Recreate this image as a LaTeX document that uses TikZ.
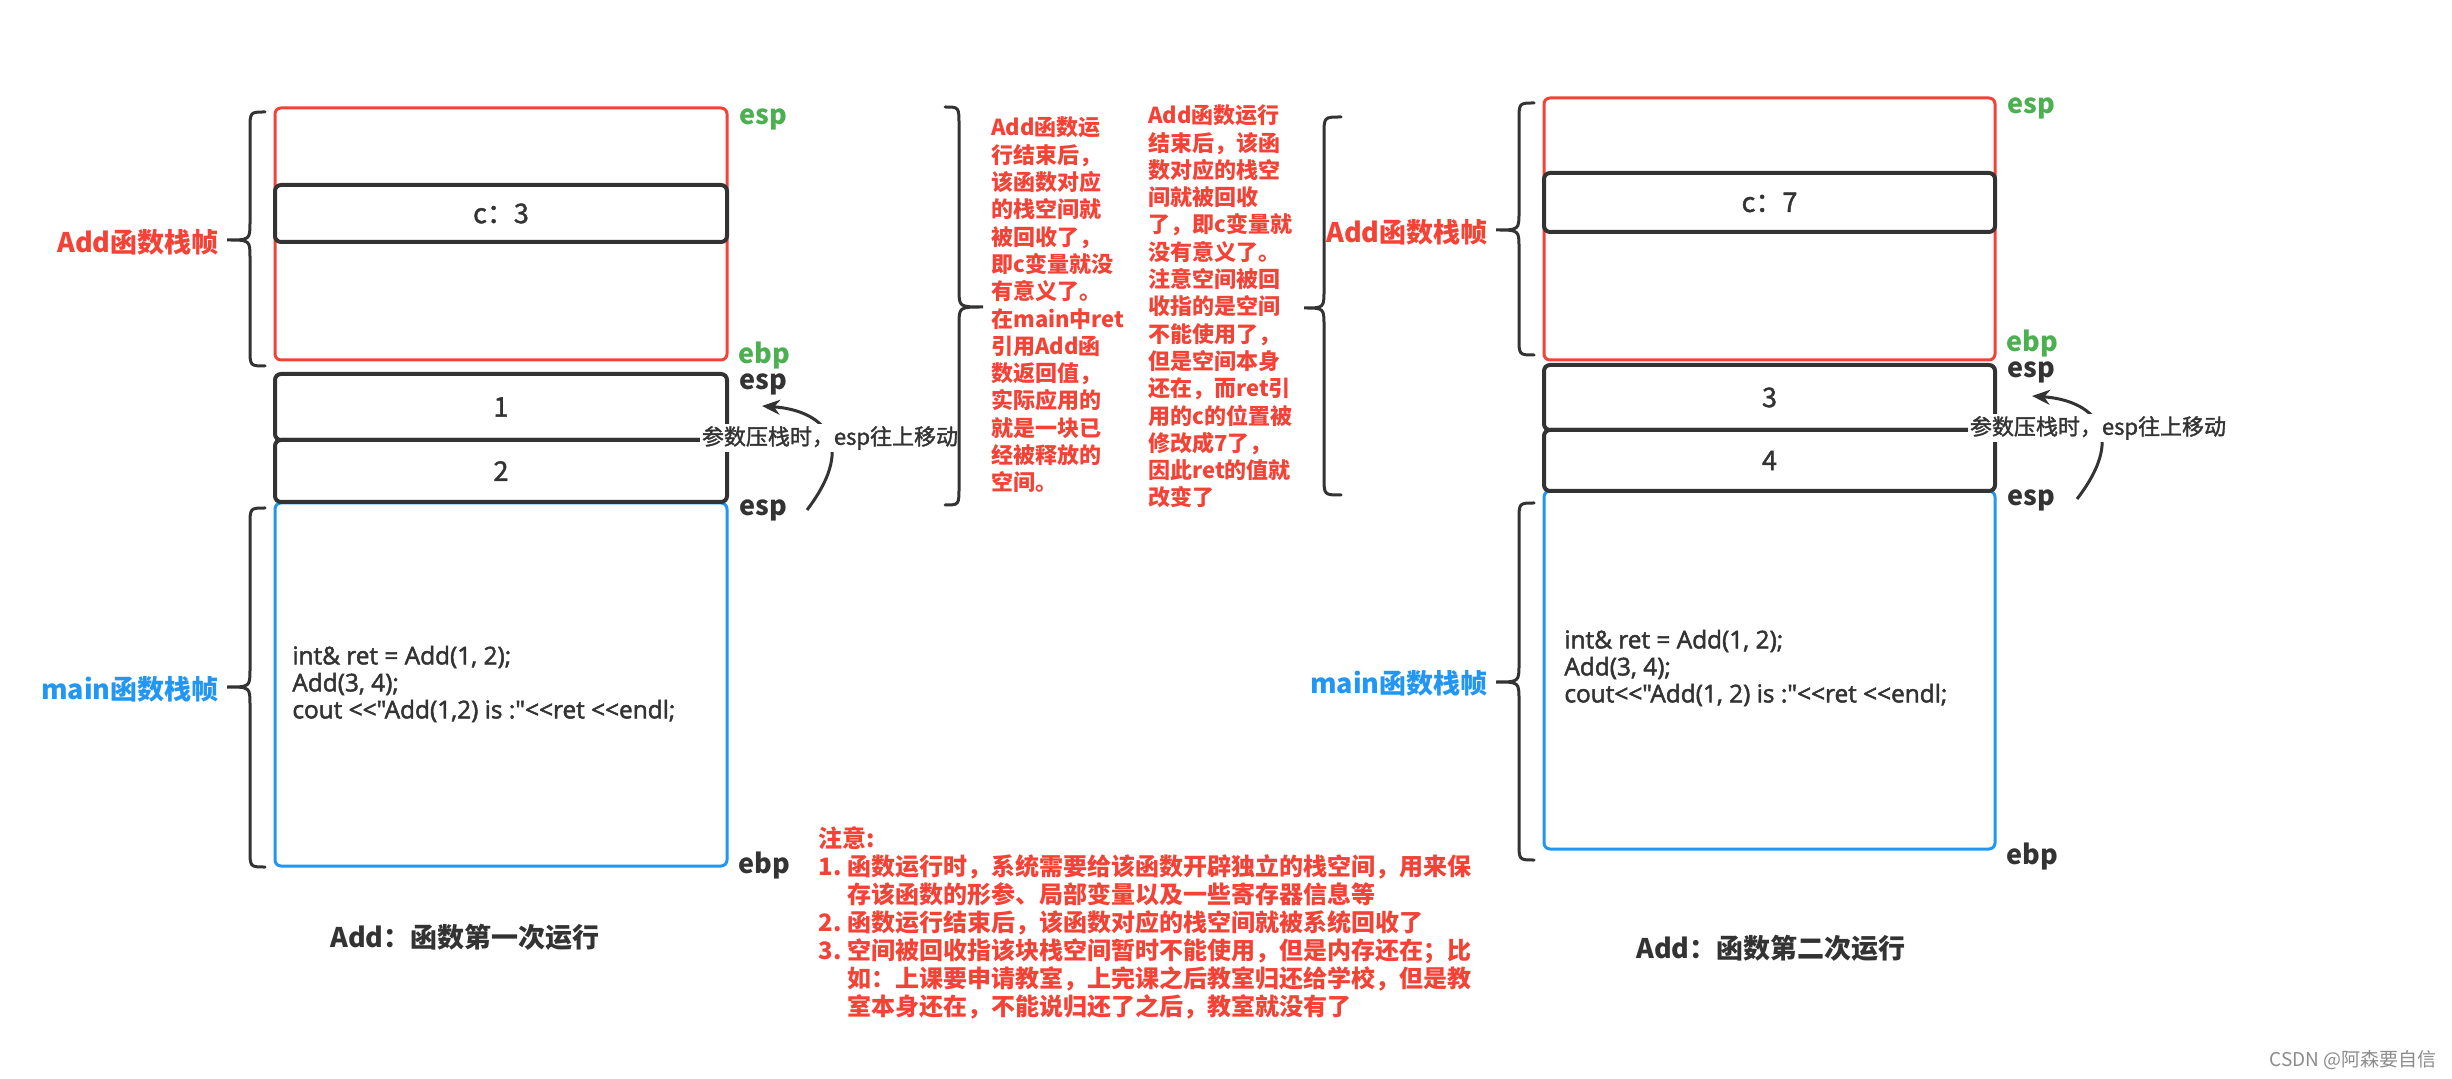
\documentclass[tikz,border=0pt]{standalone}
\usepackage{fontspec}
\setmainfont{Noto Sans CJK SC}
\newfontfamily\codefont{Open Sans}[Ligatures=TeXOff, FakeBold=2]
\newfontfamily\medfont{Noto Sans CJK SC}[FakeBold=1.5]
\usetikzlibrary{arrows.meta,fit}
\definecolor{myred}{HTML}{F44336}
\definecolor{mygreen}{HTML}{4CAF50}
\definecolor{myblue}{HTML}{2196F3}
\definecolor{mydark}{HTML}{333333}
\newcommand\myfs[2]{\fontsize{#1}{#2}\selectfont}
\begin{document}
\begin{tikzpicture}[x=0.5pt,y=-0.5pt,
  redbox/.style={draw=myred, line width=1.5pt, rounded corners=3pt, inner sep=0pt},
  bluebox/.style={draw=myblue, line width=1.5pt, rounded corners=3pt, inner sep=0pt},
  blackbox/.style={draw=mydark, line width=2pt, rounded corners=3pt, inner sep=0pt, fill=white},
  boxtext/.style={inner sep=0pt, text=mydark, font=\medfont\myfs{13.5}{16}},
  reglabel/.style={anchor=west, inner sep=0pt, font=\bfseries\myfs{13.5}{16}},
  framelabel/.style={anchor=east, inner sep=0pt, font=\bfseries\myfs{13.5}{16}},
  code/.style={anchor=west, inner sep=0pt, align=left, text=mydark, font=\codefont\myfs{12.2}{13.5}},
  redtext/.style={inner sep=0pt, align=left, text=myred, font=\bfseries\myfs{11}{13.65}},
  pushlabel/.style={fill=white, inner sep=1pt, text=mydark, font=\medfont\myfs{11}{13}},
  titletext/.style={inner sep=0pt, text=mydark, font=\bfseries\myfs{13.5}{16}},
  bracestyle/.style={draw=mydark, line width=1.5pt, line cap=round},
  arr/.style={draw=mydark, line width=1.5pt, -{Stealth[length=9pt,width=7.5pt]}}
]
\path[use as bounding box, fill=white] (0,0) rectangle (2452,1079);

% ---------------- left diagram ----------------
\node[redbox, fit={(275,108) (727,360)}] (addL) {};
\node[blackbox, fit={(275,185) (727,242)}] (cL) {};
\node[boxtext] (cLt) at (cL.center) {c：3};
\node[bluebox, fit={(275,503) (727,866)}] (mainL) {};
\node[blackbox, fit={(275,374) (727,440)}] (oneL) {};
\node[boxtext] (oneLt) at (oneL.center) {1};
\node[blackbox, fit={(275,440) (727,502)}] (twoL) {};
\node[boxtext] (twoLt) at (twoL.center) {2};

\node[code] (codeL) at (292,684) {int\& ret = Add(1, 2);\\Add(3, 4);\\cout <<"Add(1,2) is :"<<ret <<endl;};

\node[reglabel, text=mygreen] (espL1) at (739,119) {esp};
\node[reglabel, text=mygreen] (ebpL1) at (738,356) {ebp};
\node[reglabel, text=mydark] (espL2) at (739,384) {esp};
\node[reglabel, text=mydark] (espL3) at (739,510) {esp};
\node[reglabel, text=mydark] (ebpL2) at (738,866) {ebp};

% braces left
\draw[bracestyle] (265,112) .. controls (250,112) .. (250,130) -- (250,222) .. controls (250,240) and (250,240) .. (227,240)
  .. controls (250,240) and (250,240) .. (250,258) -- (250,348) .. controls (250,366) .. (265,366);
\draw[bracestyle] (265,508) .. controls (250,508) .. (250,526) -- (250,669) .. controls (250,687) and (250,687) .. (227,687)
  .. controls (250,687) and (250,687) .. (250,705) -- (250,849) .. controls (250,867) .. (265,867);
\node[framelabel, text=myred] (addLabL) at (219,242) {Add函数栈帧};
\node[framelabel, text=myblue] (mainLabL) at (219,689) {main函数栈帧};

\coordinate (arrLs) at (807,510);
\coordinate (arrLe) at (762,406);
\draw[arr] (arrLs) .. controls (860,440) and (820,410) .. (arrLe);
\node[pushlabel] (pushL) at (830,438) {参数压栈时，esp往上移动};

\node[titletext] (titleL) at (465,937) {Add：函数第一次运行};

% ---------------- middle notes ----------------
\draw[bracestyle] (945,107) .. controls (959,107) .. (959,125) -- (959,289) .. controls (959,307) and (959,307) .. (983,307)
  .. controls (959,307) and (959,307) .. (959,325) -- (959,487) .. controls (959,505) .. (945,505);

\node[redtext, anchor=west] (note1) at (991,305) {Add函数运\\行结束后，\\该函数对应\\的栈空间就\\被回收了，\\即c变量就没\\有意义了。\\在main中ret\\引用Add函\\数返回值，\\实际应用的\\就是一块已\\经被释放的\\空间。};

\node[redtext, anchor=west] (note2) at (1148,306.5) {Add函数运行\\结束后，该函\\数对应的栈空\\间就被回收\\了，即c变量就\\没有意义了。\\注意空间被回\\收指的是空间\\不能使用了，\\但是空间本身\\还在，而ret引\\用的c的位置被\\修改成7了，\\因此ret的值就\\改变了};

\draw[bracestyle] (1341,117) .. controls (1324,117) .. (1324,135) -- (1324,290) .. controls (1324,308) and (1324,308) .. (1304,308)
  .. controls (1324,308) and (1324,308) .. (1324,326) -- (1324,477) .. controls (1324,495) .. (1341,495);

\node[redtext, anchor=west, font=\bfseries\myfs{12}{14}] (note3) at (818,923) {注意:\\
\makebox[14.5pt][l]{1.}函数运行时，系统需要给该函数开辟独立的栈空间，用来保\\
\hspace*{14.5pt}存该函数的形参、局部变量以及一些寄存器信息等\\
\makebox[14.5pt][l]{2.}函数运行结束后，该函数对应的栈空间就被系统回收了\\
\makebox[14.5pt][l]{3.}空间被回收指该块栈空间暂时不能使用，但是内存还在；比\\
\hspace*{14.5pt}如：上课要申请教室，上完课之后教室归还给学校，但是教\\
\hspace*{14.5pt}室本身还在，不能说归还了之后，教室就没有了};

% ---------------- right diagram ----------------
\node[redbox, fit={(1544,98) (1995,360)}] (addR) {};
\node[blackbox, fit={(1544,173) (1995,232)}] (cR) {};
\node[boxtext] (cRt) at (cR.center) {c：7};
\node[bluebox, fit={(1544,491) (1995,849)}] (mainR) {};
\node[blackbox, fit={(1544,365) (1995,430)}] (threeR) {};
\node[boxtext] (threeRt) at (threeR.center) {3};
\node[blackbox, fit={(1544,430) (1995,491)}] (fourR) {};
\node[boxtext] (fourRt) at (fourR.center) {4};

\node[code] (codeR) at (1564,668) {int\& ret = Add(1, 2);\\Add(3, 4);\\cout<<"Add(1, 2) is :"<<ret <<endl;};

\node[reglabel, text=mygreen] (espR1) at (2007,108) {esp};
\node[reglabel, text=mygreen] (ebpR1) at (2006,344) {ebp};
\node[reglabel, text=mydark] (espR2) at (2007,372) {esp};
\node[reglabel, text=mydark] (espR3) at (2007,500) {esp};
\node[reglabel, text=mydark] (ebpR2) at (2006,857) {ebp};

\draw[bracestyle] (1534,103) .. controls (1519,103) .. (1519,121) -- (1519,212) .. controls (1519,230) and (1519,230) .. (1496,230)
  .. controls (1519,230) and (1519,230) .. (1519,248) -- (1519,337) .. controls (1519,355) .. (1534,355);
\draw[bracestyle] (1534,503) .. controls (1519,503) .. (1519,521) -- (1519,664) .. controls (1519,682) and (1519,682) .. (1496,682)
  .. controls (1519,682) and (1519,682) .. (1519,700) -- (1519,842) .. controls (1519,860) .. (1534,860);
\node[framelabel, text=myred] (addLabR) at (1488,232) {Add函数栈帧};
\node[framelabel, text=myblue] (mainLabR) at (1488,683) {main函数栈帧};

\coordinate (arrRs) at (2077,499);
\coordinate (arrRe) at (2032,396);
\draw[arr] (arrRs) .. controls (2130,430) and (2090,400) .. (arrRe);
\node[pushlabel] (pushR) at (2098,428) {参数压栈时，esp往上移动};

\node[titletext] (titleR) at (1771,948) {Add：函数第二次运行};

\node[anchor=east, inner sep=0pt, text=black!45, font=\myfs{9.5}{11}] (wm) at (2437,1060) {CSDN @阿森要自信};
\end{tikzpicture}
\end{document}
